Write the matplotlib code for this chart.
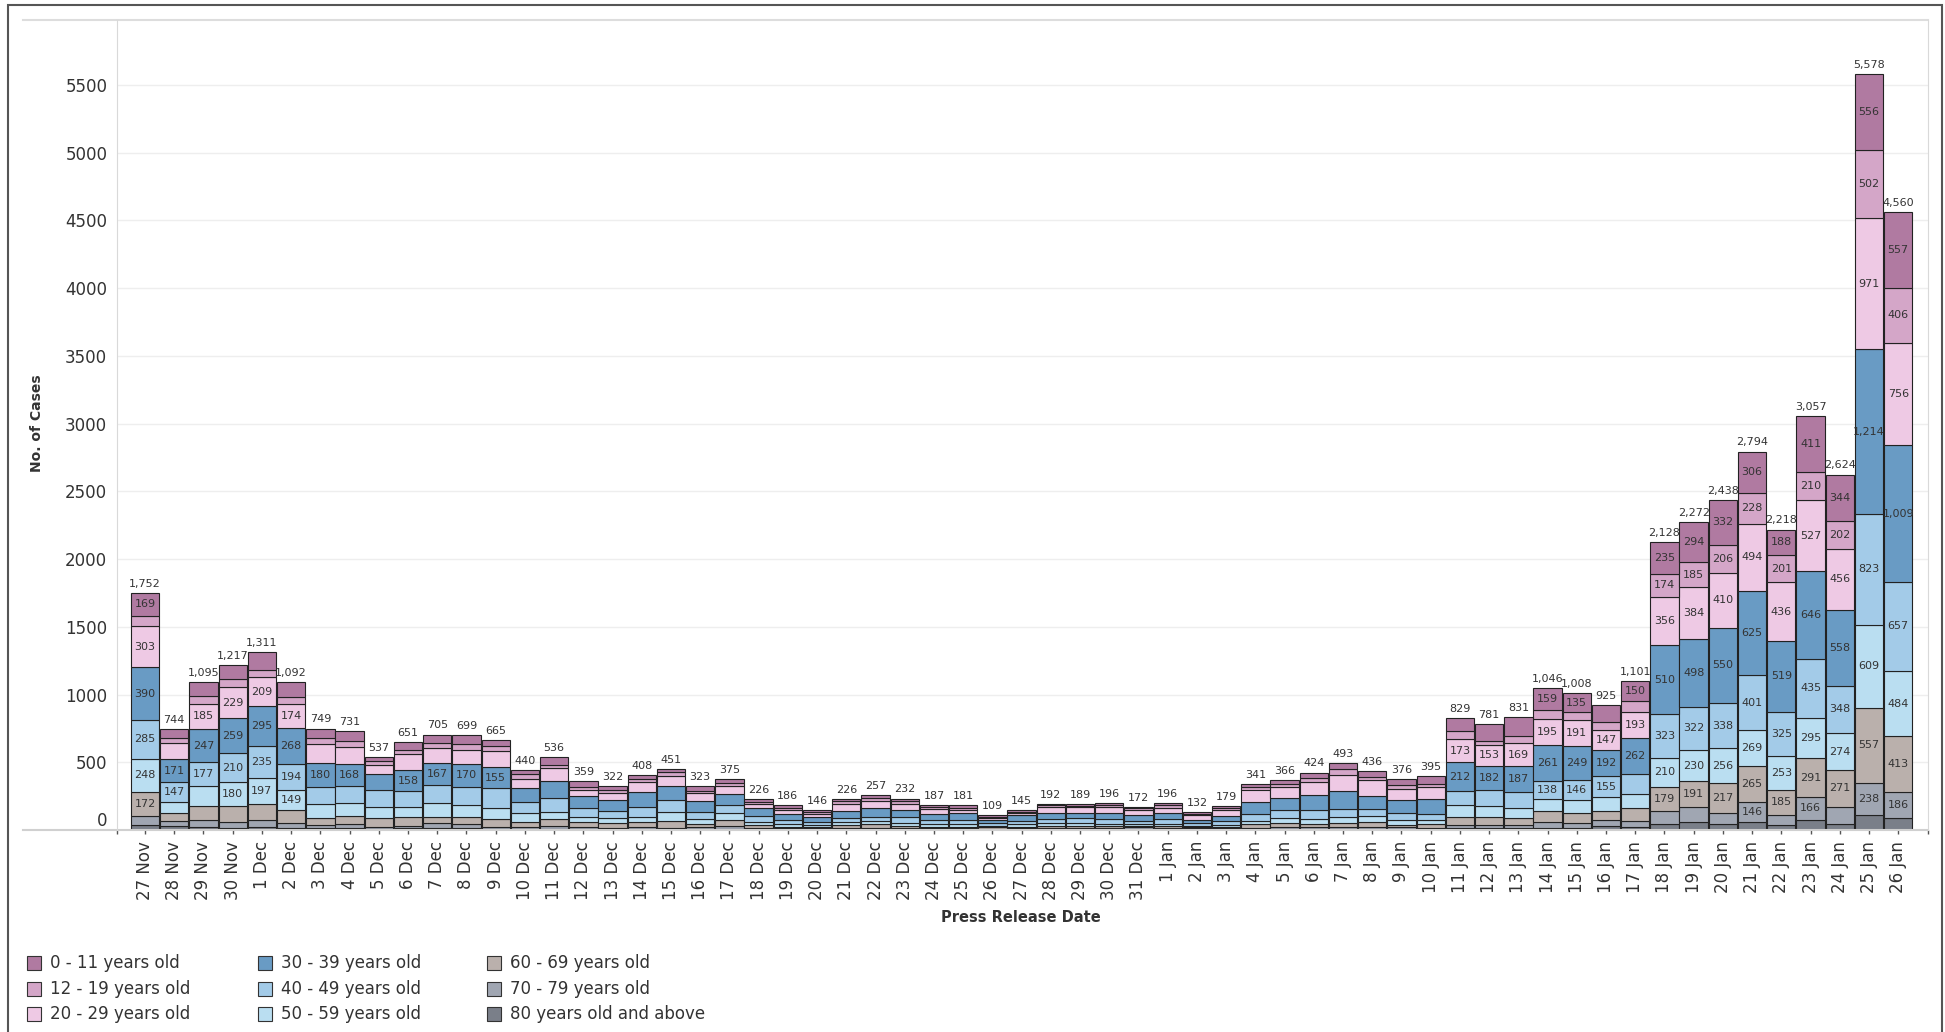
import matplotlib
matplotlib.use('Agg')
import matplotlib.pyplot as plt
import numpy as np
from matplotlib.patches import Rectangle

plt.rcParams['font.family'] = ['DejaVu Sans']

dates = ([f'{d} Nov' for d in range(27, 31)]
         + [f'{d} Dec' for d in range(1, 32)]
         + [f'{d} Jan' for d in range(1, 27)])

groups = ['0 - 11 years old', '12 - 19 years old', '20 - 29 years old',
          '30 - 39 years old', '40 - 49 years old', '50 - 59 years old',
          '60 - 69 years old', '70 - 79 years old', '80 years old and above']
colors = ['#b07aa1', '#d4a6c8', '#eec9e4', '#699bc4', '#a3cbe8',
          '#badef1', '#bab0ac', '#a0a6b2', '#7a7f89']

age_0_11 = [169, 66, 107, 101, 128, 107, 72, 77, 30, 59,
            62, 67, 44, 30, 54, 42, 25, 35, 25, 35,
            25, 22, 20, 15, 12, 22, 17, 15, 17, 10,
            12, 10, 10, 15, 12, 15, 12, 17, 20, 25,
            37, 45, 42, 45, 54, 99, 122, 134, 159, 135,
            126, 150, 235, 294, 332, 306, 188, 411, 344, 556,
            557]
age_12_19 = [78, 37, 56, 63, 57, 55, 44, 40, 27, 30,
             35, 40, 35, 35, 25, 25, 22, 20, 30, 15,
             22, 15, 20, 15, 20, 20, 20, 15, 20, 8,
             10, 10, 8, 10, 12, 15, 8, 15, 22, 20,
             32, 40, 27, 30, 25, 57, 32, 57, 66, 62,
             64, 82, 174, 185, 206, 228, 201, 210, 202, 502,
             406]
age_20_29 = [303, 117, 185, 229, 209, 174, 139, 124, 67, 119,
             111, 104, 124, 64, 94, 44, 52, 69, 74, 59,
             62, 27, 30, 20, 57, 49, 47, 42, 20, 18,
             15, 45, 42, 42, 40, 37, 40, 42, 89, 82,
             99, 119, 113, 80, 87, 173, 153, 169, 195, 191,
             147, 193, 356, 384, 410, 494, 436, 527, 456, 971,
             756]
age_30_39 = [390, 171, 247, 259, 295, 268, 180, 168, 119, 158,
             167, 170, 155, 102, 124, 83, 84, 116, 104, 79,
             83, 59, 45, 39, 46, 67, 55, 43, 53, 25,
             40, 45, 40, 48, 42, 45, 22, 42, 89, 89,
             111, 131, 99, 94, 111, 212, 182, 187, 261, 249,
             192, 262, 510, 498, 550, 625, 519, 646, 558, 1214,
             1009]
age_40_49 = [285, 147, 177, 210, 235, 194, 124, 125, 124, 114,
             133, 131, 147, 85, 104, 71, 53, 69, 83, 56,
             60, 41, 30, 20, 34, 32, 44, 30, 29, 16,
             25, 32, 35, 35, 20, 37, 17, 25, 51, 59,
             62, 62, 49, 50, 42, 102, 113, 124, 138, 146,
             155, 148, 323, 322, 338, 401, 325, 435, 348, 823,
             657]
age_50_59 = [248, 77, 148, 180, 197, 149, 99, 91, 84, 72,
             99, 88, 79, 67, 57, 37, 37, 42, 69, 35,
             52, 25, 17, 15, 20, 25, 17, 20, 20, 12,
             18, 22, 25, 20, 15, 20, 10, 15, 25, 37,
             37, 42, 47, 38, 32, 87, 85, 69, 85, 97,
             99, 106, 210, 230, 256, 269, 253, 295, 274, 609,
             484]
age_60_69 = [172, 62, 99, 117, 116, 96, 54, 64, 62, 67,
             49, 57, 57, 35, 49, 35, 32, 35, 49, 22,
             44, 20, 12, 10, 20, 25, 15, 10, 10, 9,
             12, 13, 14, 13, 12, 12, 7, 10, 30, 30,
             25, 30, 40, 20, 30, 62, 57, 54, 83, 79,
             67, 94, 179, 191, 217, 265, 185, 291, 271, 557,
             413]
age_70_79 = [67, 35, 54, 41, 52, 32, 25, 30, 17, 20,
             32, 30, 17, 15, 22, 15, 10, 15, 10, 15,
             20, 10, 7, 7, 10, 10, 10, 7, 7, 6,
             8, 9, 9, 8, 10, 9, 8, 8, 10, 15,
             12, 15, 12, 12, 7, 25, 25, 25, 42, 32,
             45, 42, 97, 112, 88, 146, 77, 166, 124, 238,
             186]
age_80_plus = [40, 32, 22, 17, 22, 17, 12, 12, 7, 12,
               17, 12, 7, 7, 7, 7, 7, 7, 7, 7,
               7, 7, 5, 5, 7, 7, 7, 5, 5, 5,
               5, 6, 6, 5, 9, 6, 8, 5, 5, 9,
               9, 9, 7, 7, 7, 12, 12, 12, 17, 17,
               30, 24, 44, 56, 41, 60, 34, 76, 47, 108,
               92]

totals = [1752, 744, 1095, 1217, 1311, 1092, 749, 731, 537, 651,
          705, 699, 665, 440, 536, 359, 322, 408, 451, 323,
          375, 226, 186, 146, 226, 257, 232, 187, 181, 109,
          145, 192, 189, 196, 172, 196, 132, 179, 341, 366,
          424, 493, 436, 376, 395, 829, 781, 831, 1046, 1008,
          925, 1101, 2128, 2272, 2438, 2794, 2218, 3057, 2624, 5578,
          4560]

series = [age_0_11, age_12_19, age_20_29, age_30_39, age_40_49,
          age_50_59, age_60_69, age_70_79, age_80_plus]

# segments big enough to be labelled but left blank in the original
hidden = {(2, 5), (6, 2), (12, 4), (51, 4)}

bad = [dates[i] for i in range(len(dates)) if sum(s[i] for s in series) != totals[i]]
if bad:
    raise SystemExit('totals do not match: ' + ', '.join(bad))

W, H = 1945, 1032
fig = plt.figure(figsize=(W / 100, H / 100), dpi=100)
ax = fig.add_axes([117 / W, 1 - 830 / H, (1928 - 117) / W, (830 - 20) / H])

x = np.arange(len(dates))
bottom = np.zeros(len(dates))
# oldest group sits at the bottom of each stack
for gi in range(len(groups) - 1, -1, -1):
    vals = np.array(series[gi])
    bars = ax.bar(x, vals, 0.97, bottom=bottom, color=colors[gi],
                  edgecolor='#222222', linewidth=0.8, zorder=2)
    labels = [f'{v:,}' if v >= 135 and (i, gi) not in hidden else ''
              for i, v in enumerate(vals)]
    ax.bar_label(bars, labels=labels, label_type='center', fontsize=8,
                 color='#333333')
    bottom += vals

ax.bar_label(bars, labels=[f'{t:,}' for t in totals], padding=3,
             fontsize=8, color='#333333')

ax.set_xlim(-0.96, 61.02)
ax.set_ylim(0, 5980)
ax.set_yticks(np.arange(0, 6000, 500))
ax.grid(axis='y', color='#eeeeee', linewidth=1)
ax.set_axisbelow(True)
ax.tick_params(axis='y', length=0, pad=7, labelsize=12, labelcolor='#333333')
ax.set_xticks(x)
ax.set_xticklabels(dates, rotation=90, fontsize=12, color='#333333')
ax.tick_params(axis='x', length=3, width=1, color='#555555', pad=5)
ax.set_xticks([-0.96, 61.02], minor=True)
ax.tick_params(axis='x', which='minor', length=3, width=1, color='#555555')
ax.get_yticklabels()[0].set_va('bottom')

for s in ['top', 'bottom']:
    ax.spines[s].set_visible(False)
for s in ['left', 'right']:
    ax.spines[s].set_color('#d9d9d9')
ax.plot([-0.052, 1], [1, 1], transform=ax.transAxes, color='#dddddd',
        lw=1.5, clip_on=False)
ax.plot([-0.052, 1], [0, 0], transform=ax.transAxes, color='#d0d0d0',
        lw=1.5, clip_on=False)

fig.text(37 / W, 1 - 423 / H, 'No. of Cases', rotation=90, fontsize=10,
         fontweight='bold', ha='center', va='center', color='#333333')
fig.text(1021 / W, 1 - 918 / H, 'Press Release Date', fontsize=10.5,
         fontweight='bold', ha='center', va='center', color='#333333')

# legend, three columns filled top to bottom
col_x = [27, 258, 487]
row_y = [963, 989, 1014]
for k, g in enumerate(groups):
    px, py = col_x[k // 3], row_y[k % 3]
    fig.add_artist(Rectangle((px / W, 1 - (py + 7) / H), 14 / W, 14 / H,
                             facecolor=colors[k], edgecolor='#333333', lw=0.8))
    fig.text((px + 23) / W, 1 - py / H, g, fontsize=12, va='center',
             color='#333333')

fig.add_artist(Rectangle((8 / W, -5 / H), 1934 / W, 1032 / H, fill=False,
                         edgecolor='#555555', lw=1.5))

fig.savefig('out.png', dpi=100)
